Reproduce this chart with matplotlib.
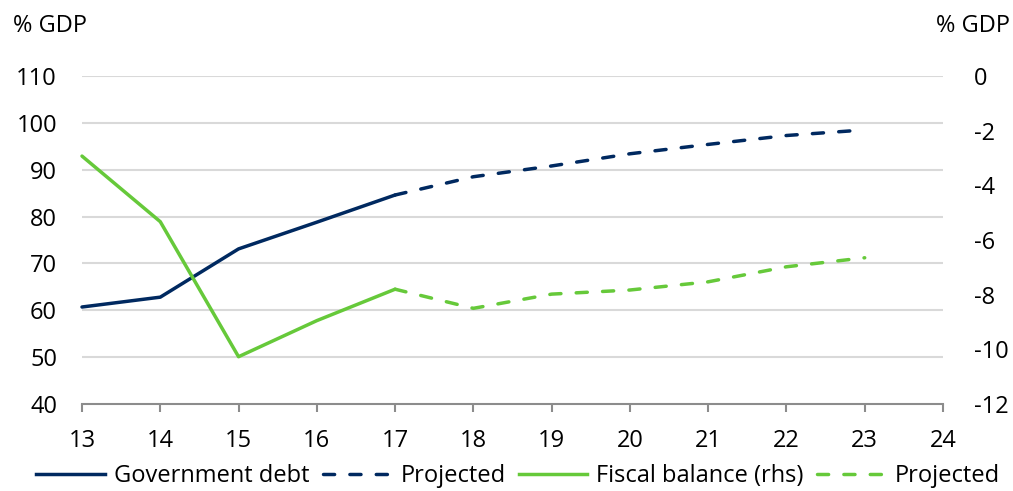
import matplotlib
matplotlib.use("Agg")
import matplotlib.pyplot as plt
from matplotlib.lines import Line2D

# ---- data ----
years_actual = [13, 14, 15, 16, 17]
years_proj = [17, 18, 19, 20, 21, 22, 23]
debt_actual = [60.7, 62.8, 73.1, 78.8, 84.6]
debt_proj = [84.6, 88.5, 90.8, 93.4, 95.4, 97.3, 98.5]
fiscal_actual = [-2.93, -5.33, -10.27, -8.95, -7.8]
fiscal_proj = [-7.8, -8.5, -7.98, -7.83, -7.53, -6.98, -6.65]
x_ticks = list(range(13, 25))
left_ticks = [40, 50, 60, 70, 80, 90, 100, 110]
right_ticks = [-12, -10, -8, -6, -4, -2, 0]
legend_labels = ["Government debt", "Projected", "Fiscal balance (rhs)", "Projected"]
axis_unit = "% GDP"

NAVY = "#002960"
GREEN = "#66c93a"
GRID = "#d9d9d9"
AXIS = "#8c8c8c"
FS = 17

plt.rcParams['font.family'] = ['Open Sans', 'DejaVu Sans']

fig = plt.figure(figsize=(10.13, 4.91), dpi=100)
ax = fig.add_axes([82 / 1013, 1 - 404 / 491, (943 - 82) / 1013, (404 - 76) / 491])
ax2 = ax.twinx()

lw = 2.5
dash = (3.2, 4.4)

ax.plot(years_actual, debt_actual, color=NAVY, lw=lw, solid_capstyle='round', clip_on=False)
ax.plot(years_proj, debt_proj, color=NAVY, lw=lw, dashes=dash, dash_capstyle='round', clip_on=False)
ax2.plot(years_actual, fiscal_actual, color=GREEN, lw=lw, solid_capstyle='round', clip_on=False)
ax2.plot(years_proj, fiscal_proj, color=GREEN, lw=lw, dashes=dash, dash_capstyle='round', clip_on=False)

ax.set_xlim(13, 24)
ax.set_ylim(40, 110)
ax2.set_ylim(-12, 0)

ax.set_xticks(x_ticks)
ax.set_xticklabels([str(t) for t in x_ticks], fontsize=FS)
ax.set_yticks(left_ticks)
ax.set_yticklabels([str(t) for t in left_ticks], fontsize=FS)
ax2.set_yticks(right_ticks)
ax2.set_yticklabels([str(t) for t in right_ticks], fontsize=FS, ha='left')

for a in (ax, ax2):
    for s in ('top', 'left', 'right', 'bottom'):
        a.spines[s].set_visible(False)
ax.spines['bottom'].set_visible(True)
ax.spines['bottom'].set_color(AXIS)
ax.spines['bottom'].set_linewidth(1.5)

ax.tick_params(axis='x', direction='out', length=6, width=1.5, color=AXIS, pad=12)
ax.tick_params(axis='y', length=0, pad=18)
ax2.tick_params(axis='y', length=0, pad=22)

ax.yaxis.grid(True, color=GRID, lw=1.5)
ax.set_axisbelow(True)
for gl, v in zip(ax.get_ygridlines(), left_ticks):
    if v == 40:
        gl.set_visible(False)

fig.text(13 / 1013, 1 - 26 / 491, axis_unit, fontsize=FS, ha='left', va='center')
fig.text(1010 / 1013, 1 - 26 / 491, axis_unit, fontsize=FS, ha='right', va='center')

handles = [
    Line2D([], [], color=NAVY, lw=lw),
    Line2D([], [], color=NAVY, lw=lw, dashes=dash, dash_capstyle='round'),
    Line2D([], [], color=GREEN, lw=lw),
    Line2D([], [], color=GREEN, lw=lw, dashes=dash, dash_capstyle='round'),
]
fig.legend(handles, legend_labels, loc='center', bbox_to_anchor=(518 / 1013, 1 - 476 / 491),
           ncol=4, frameon=False, fontsize=FS, handlelength=2.9, handletextpad=0.4,
           columnspacing=0.55, borderpad=0, borderaxespad=0)

fig.savefig("out.png", dpi=100)
